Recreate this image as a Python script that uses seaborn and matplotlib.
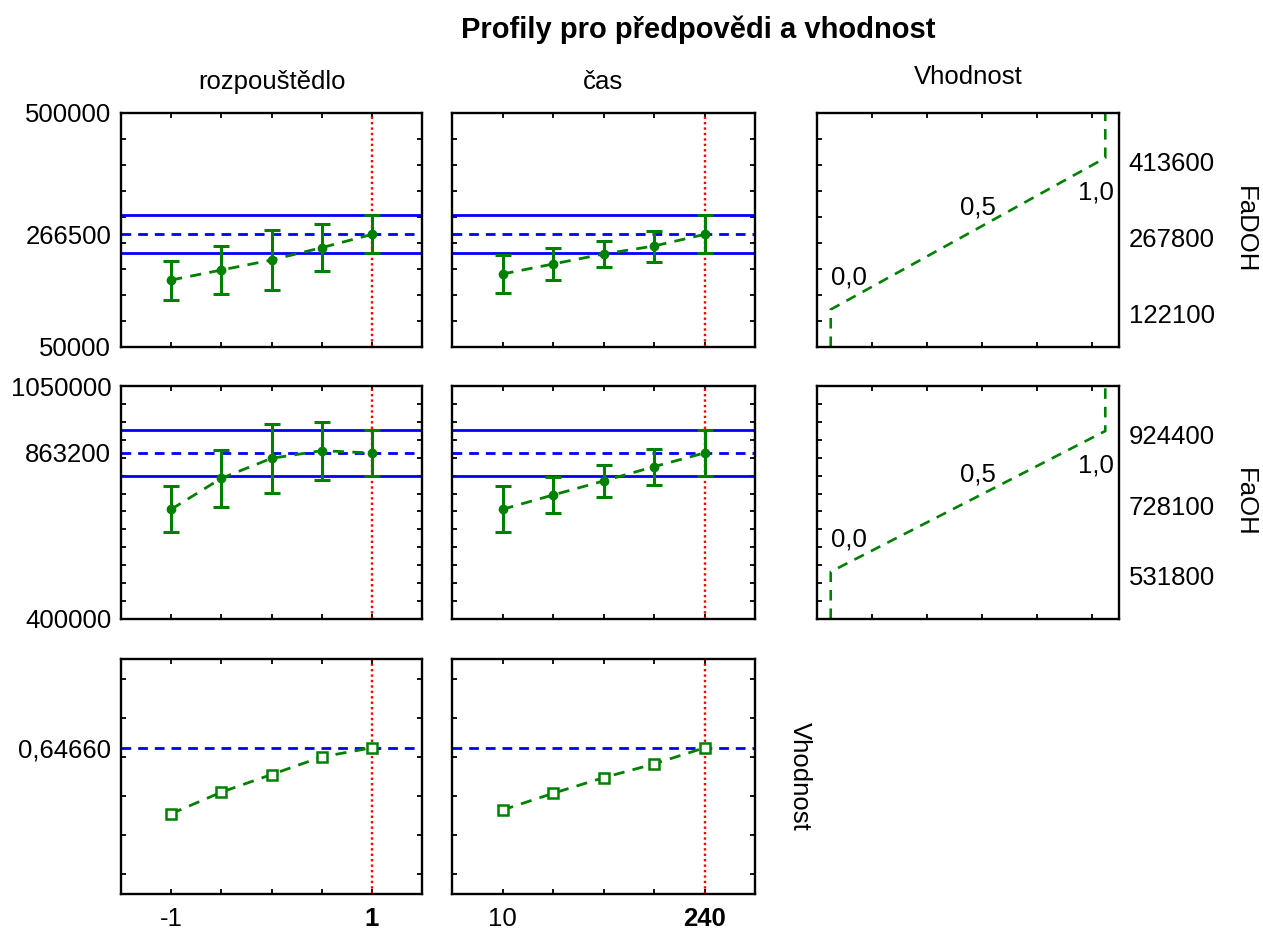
import numpy as np
import pandas as pd
import matplotlib
matplotlib.use("Agg")
import matplotlib.pyplot as plt
import matplotlib.transforms as mtrans
from matplotlib.ticker import FixedLocator
import seaborn as sns

sns.set_style("ticks")
plt.rcParams["font.family"] = ["Liberation Sans", "DejaVu Sans"]
plt.rcParams["text.color"] = "black"
plt.rcParams["xtick.color"] = "black"
plt.rcParams["ytick.color"] = "black"

# ── data ────────────────────────────────────────────────────────────────────
TITLE = "Profily pro předpovědi a vhodnost"
factor_names = ["rozpouštědlo", "čas"]
rozp_x = [-1, -0.5, 0, 0.5, 1]
cas_x = [10, 67.5, 125, 182.5, 240]
rozp_labels = ["-1", "", "", "", "1"]
cas_labels = ["10", "", "", "", "240"]
current_level = [1, 240]

# FaDOH profile (predicted value +- error)
fadoh_rozp = [178800, 198000, 217300, 241000, 266500]
fadoh_rozp_err = [37500, 45500, 57000, 45000, 36500]
fadoh_cas = [190400, 209600, 228800, 244200, 266500]
fadoh_cas_err = [37000, 30000, 25700, 29800, 36500]
fadoh_pred, fadoh_ci = 266500, 36500

# FaOH profile
faoh_rozp = [706000, 792500, 848300, 869500, 863200]
faoh_rozp_err = [64000, 80000, 97000, 80500, 65000]
faoh_cas = [706000, 745900, 785000, 824900, 863200]
faoh_cas_err = [64000, 51000, 45600, 50000, 65000]
faoh_pred, faoh_ci = 863200, 65000

# overall desirability profile
vh_rozp = [0.310, 0.420, 0.510, 0.600, 0.6466]
vh_cas = [0.329, 0.414, 0.494, 0.564, 0.6466]
vh_pred = 0.6466

# desirability functions (low / mid / high response values)
desir_levels = [0.0, 0.5, 1.0]
desir_labels = ["0,0", "0,5", "1,0"]
fadoh_limits = [122100, 267800, 413600]
faoh_limits = [531800, 728100, 924400]

# axis ranges
fadoh_ylim = (50000, 500000)
faoh_ylim = (400000, 1050000)
vh_ylim = (-0.1, 1.1)
vh_minor = [0.0, 0.2, 0.4, 0.6, 0.8, 1.0]

# ── layout (pixels) ─────────────────────────────────────────────────────────
W, H = 1263, 935
COLS = [(121, 422), (452, 755), (817, 1119)]
ROWS = [(113, 347), (386, 619), (659, 894)]
FS = 18.5
GREEN = "#008000"
LW = 2.0


def rect(c, r):
    x0, x1 = COLS[c]
    y0, y1 = ROWS[r]
    return [x0 / W, 1 - y1 / H, (x1 - x0) / W, (y1 - y0) / H]


def frame(ax, right_ticks=True):
    for s in ax.spines.values():
        s.set_linewidth(1.7)
        s.set_color("black")
    ax.tick_params(axis="x", which="both", direction="in", top=True, bottom=True,
                   length=3.5, width=1.3, labelsize=FS, pad=9, color="black")
    ax.tick_params(axis="y", which="minor", direction="in", left=True, right=right_ticks,
                   length=3.5, width=1.3, color="black")
    ax.tick_params(axis="y", which="major", length=0, labelsize=FS, pad=7)
    ax.set_xlabel("")
    ax.set_ylabel("")


fig = plt.figure(figsize=(W / 100, H / 100), dpi=100)

factor_x = [rozp_x, cas_x]
factor_lbl = [rozp_labels, cas_labels]
xlims = [(-1.5, 1.5), (-47.5, 297.5)]

responses = [
    dict(vals=[fadoh_rozp, fadoh_cas], errs=[fadoh_rozp_err, fadoh_cas_err],
         pred=fadoh_pred, ci=fadoh_ci, ylim=fadoh_ylim,
         yticks=[50000, 266500, 500000], yminor=np.arange(50000, 500001, 50000)),
    dict(vals=[faoh_rozp, faoh_cas], errs=[faoh_rozp_err, faoh_cas_err],
         pred=faoh_pred, ci=faoh_ci, ylim=faoh_ylim,
         yticks=[400000, 863200, 1050000], yminor=np.arange(400000, 1050001, 50000)),
]

# ── response profiles (rows 1-2) ───────────────────────────────────────────
for r, resp in enumerate(responses):
    for c in range(2):
        ax = fig.add_axes(rect(c, r))
        x = factor_x[c]
        df = pd.DataFrame({"x": x, "y": resp["vals"][c]})
        ax.axhline(resp["pred"], color="blue", lw=LW, ls=(0, (3.5, 2.5)), zorder=1)
        ax.axhline(resp["pred"] - resp["ci"], color="blue", lw=LW, zorder=1)
        ax.axhline(resp["pred"] + resp["ci"], color="blue", lw=LW, zorder=1)
        ax.axvline(current_level[c], color="red", lw=1.7, ls=(0, (1, 1.3)), zorder=1.5)
        sns.lineplot(data=df, x="x", y="y", ax=ax, color=GREEN, lw=LW,
                     linestyle=(0, (4, 3)), errorbar=None, zorder=3)
        ax.errorbar(x, resp["vals"][c], yerr=resp["errs"][c], fmt="o", color=GREEN,
                    ms=6, elinewidth=2.2, capsize=6, capthick=2.2, zorder=4)
        ax.set_xlim(xlims[c])
        ax.set_ylim(resp["ylim"])
        ax.set_xticks(x)
        ax.set_xticklabels([])
        ax.yaxis.set_minor_locator(FixedLocator(resp["yminor"]))
        ax.set_yticks(resp["yticks"])
        if c == 0:
            ax.set_yticklabels([str(v) for v in resp["yticks"]])
        else:
            ax.set_yticklabels([])
        frame(ax)

# ── desirability profile (row 3) ───────────────────────────────────────────
vh_vals = [vh_rozp, vh_cas]
for c in range(2):
    ax = fig.add_axes(rect(c, 2))
    x = factor_x[c]
    df = pd.DataFrame({"x": x, "y": vh_vals[c]})
    ax.axhline(vh_pred, color="blue", lw=LW, ls=(0, (3.5, 2.5)), zorder=1)
    ax.axvline(current_level[c], color="red", lw=1.7, ls=(0, (1, 1.3)), zorder=1.5)
    sns.lineplot(data=df, x="x", y="y", ax=ax, color=GREEN, lw=LW,
                 linestyle=(0, (4, 3)), errorbar=None, marker="s", ms=6.5,
                 markerfacecolor="white", markeredgecolor=GREEN, markeredgewidth=1.8,
                 zorder=3)
    ax.set_xlim(xlims[c])
    ax.set_ylim(vh_ylim)
    ax.set_xticks(x)
    ax.set_xticklabels(factor_lbl[c])
    ax.get_xticklabels()[-1].set_fontweight("bold")
    ax.yaxis.set_minor_locator(FixedLocator(vh_minor))
    ax.set_yticks([vh_pred])
    ax.set_yticklabels(["0,64660"] if c == 0 else [])
    frame(ax)

# ── desirability functions (column 3) ──────────────────────────────────────
for r, (limits, ylim, yminor) in enumerate([(fadoh_limits, fadoh_ylim, responses[0]["yminor"]),
                                            (faoh_limits, faoh_ylim, responses[1]["yminor"])]):
    ax = fig.add_axes(rect(2, r))
    curve = pd.DataFrame({
        "d": [desir_levels[0]] + desir_levels + [desir_levels[-1]],
        "y": [ylim[0]] + limits + [ylim[1]],
    })
    sns.lineplot(data=curve, x="d", y="y", ax=ax, sort=False, estimator=None,
                 color=GREEN, lw=1.9, linestyle=(0, (4, 3)))
    offsets = [(0, 18, "left"), (7, 14, "center"), (6, -30, "right")]
    for d, lim, lab, (dx, dy, ha) in zip(desir_levels, limits, desir_labels, offsets):
        ax.annotate(lab, xy=(d, lim), xytext=(dx, dy), textcoords="offset points",
                    ha=ha, va="baseline", fontsize=FS)
    ax.set_xlim(-0.05, 1.05)
    ax.set_ylim(ylim)
    ax.set_xticks([0.15, 0.35, 0.55, 0.75, 0.95])
    ax.set_xticklabels([])
    ax.yaxis.set_minor_locator(FixedLocator(yminor))
    ax.set_yticks(limits)
    ax.set_yticklabels([str(v) for v in limits])
    frame(ax, right_ticks=False)
    ax.tick_params(axis="y", which="major", left=False, right=False,
                   labelleft=False, labelright=True, pad=7)
    shift = mtrans.ScaledTranslation(0, 4 / 72, fig.dpi_scale_trans)
    for lbl in ax.get_yticklabels():
        lbl.set_verticalalignment("top")
        lbl.set_transform(lbl.get_transform() + shift)

# ── texts ───────────────────────────────────────────────────────────────────
fig.text(698 / W, 1 - 30 / H, TITLE, ha="center", va="center", fontsize=21, fontweight="bold")
for c, name in enumerate(factor_names):
    fig.text(sum(COLS[c]) / 2 / W, 1 - 82 / H, name, ha="center", va="center", fontsize=FS)
fig.text(sum(COLS[2]) / 2 / W, 1 - 77 / H, "Vhodnost", ha="center", va="center", fontsize=FS)
fig.text(1245 / W, 1 - sum(ROWS[0]) / 2 / H, "FaDOH", rotation=270, ha="center", va="center", fontsize=FS)
fig.text(1245 / W, 1 - sum(ROWS[1]) / 2 / H, "FaOH", rotation=270, ha="center", va="center", fontsize=FS)
fig.text(800 / W, 1 - sum(ROWS[2]) / 2 / H, "Vhodnost", rotation=270, ha="center", va="center", fontsize=FS)

fig.savefig("out.png", dpi=100)
